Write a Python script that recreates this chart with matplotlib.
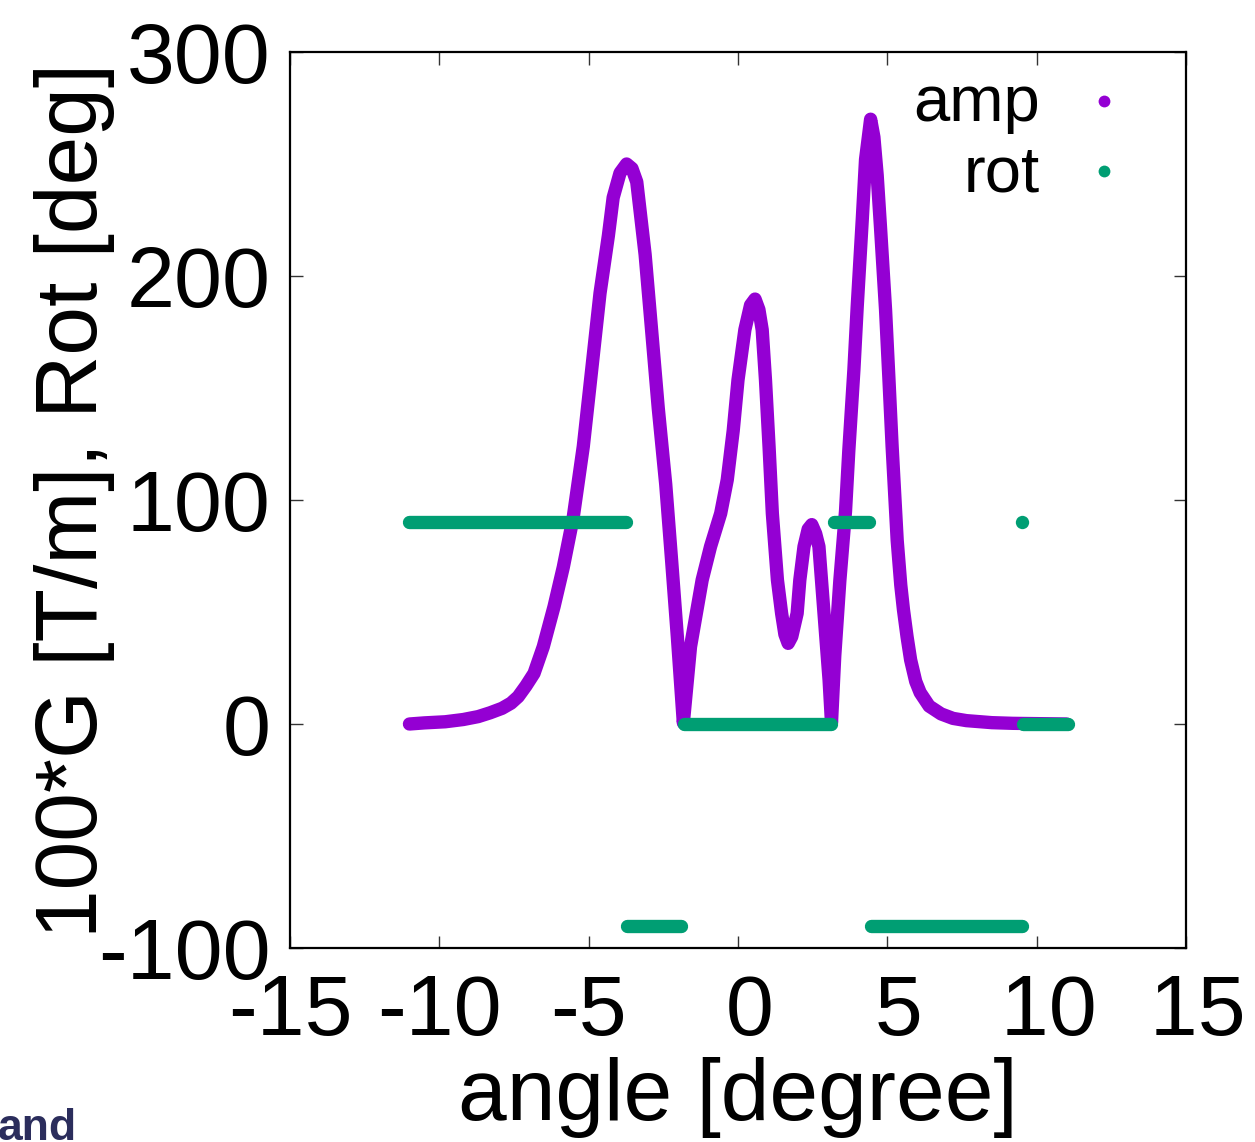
import matplotlib
matplotlib.use("Agg")
import matplotlib.pyplot as plt

plt.rcParams['font.family'] = ['Liberation Sans', 'DejaVu Sans']

# amp curve (100*G)
amp_x = [-11.0, -10.5, -9.8, -9.2, -8.7, -8.3, -7.9, -7.6, -7.36, -7.1, -6.83,
         -6.52, -6.16, -5.85, -5.52, -5.18, -4.90, -4.62, -4.34, -4.18, -3.95,
         -3.73, -3.55, -3.39, -3.11, -2.89, -2.67, -2.42, -2.22, -2.03, -1.83,
         -1.59, -1.20, -0.92, -0.58, -0.36, -0.16, 0.0, 0.23, 0.42, 0.57,
         0.70, 0.81, 0.92, 1.04, 1.15, 1.32, 1.46, 1.57, 1.68, 1.80,
         1.98, 2.07, 2.21, 2.35, 2.47, 2.60, 2.71, 2.88, 3.05, 3.13,
         3.24, 3.41, 3.60, 3.71, 3.88, 3.99, 4.16, 4.27, 4.44, 4.55,
         4.66, 4.77, 4.94, 5.05, 5.16, 5.33, 5.45, 5.54, 5.66, 5.78,
         5.95, 6.10, 6.40, 6.80, 7.20, 7.65, 8.50, 9.20, 11.0]
amp_y = [0.0, 0.5, 1.0, 2.0, 3.3, 5.0, 7.0, 9.3, 12.2, 17.0, 22.6,
         34.5, 52.4, 70.0, 92.0, 123.9, 158.0, 192.3, 218.0, 235.0, 246.0,
         250.0, 248.0, 242.0, 209.6, 175.4, 141.0, 107.0, 72.5, 38.8, 0.5,
         34.5, 64.3, 79.2, 94.0, 109.0, 131.0, 153.6, 176.0, 187.0, 189.7,
         185.0, 176.0, 153.6, 123.8, 94.0, 64.3, 49.4, 40.0, 36.0, 39.0,
         49.4, 64.3, 79.2, 87.0, 89.0, 85.0, 79.2, 49.4, 19.6, 0.5,
         30.5, 64.0, 95.0, 122.0, 158.0, 186.0, 225.0, 252.0, 270.0, 262.0,
         245.0, 222.0, 185.0, 155.0, 124.0, 82.0, 62.0, 51.0, 39.0, 28.6,
         19.0, 14.0, 8.0, 4.5, 2.5, 1.5, 0.6, 0.3, 0.0]

# rot series: constant runs (start, end, value)
rot_start = [-11.0, -3.7, -1.8, 3.2, 4.45, 9.5, 9.55]
rot_end = [-3.75, -1.9, 3.1, 4.4, 9.5, 9.5, 11.05]
rot_val = [90, -90, 0, 90, -90, 90, 0]

x_ticks = [-15, -10, -5, 0, 5, 10, 15]
x_tick_labels = ['-15', '-10', '-5', ' 0', ' 5', ' 10', ' 15']
y_ticks = [-100, 0, 100, 200, 300]
y_tick_labels = ['-100', '0', '100', '200', '300']

purple = '#9400D3'
green = '#009E73'

W, H = 1255, 1142
fig = plt.figure(figsize=(W / 100, H / 100), dpi=100)
L, R, B, T = 290, 1186, 948, 52
ax = fig.add_axes([L / W, 1 - B / H, (R - L) / W, (B - T) / H])

lw = 9.6
ax.plot(amp_x, amp_y, color=purple, lw=lw, solid_capstyle='round',
        solid_joinstyle='round', zorder=2)
for s, e, v in zip(rot_start, rot_end, rot_val):
    if e > s:
        ax.plot([s, e], [v, v], color=green, lw=lw, solid_capstyle='round', zorder=3)
    else:
        ax.plot([s], [v], 'o', color=green, ms=lw, mec='none', zorder=3)

ax.set_xlim(-15, 15)
ax.set_ylim(-100, 300)
ax.set_xticks(x_ticks)
ax.set_yticks(y_ticks)
ax.set_xticklabels(x_tick_labels)
ax.set_yticklabels(y_tick_labels)
ax.tick_params(direction='in', length=9, width=1, color='#333333',
               top=True, right=True, labelsize=62)
ax.tick_params(axis='y', pad=14)
ax.tick_params(axis='x', pad=18)
for sp in ax.spines.values():
    sp.set_linewidth(1.6)
    sp.set_color('black')

fig.text(738 / W, 1 - 1097 / H, 'angle [degree]', fontsize=63, ha='center', va='center')
fig.text(75 / W, 1 - 500 / H, '100*G [T/m], Rot [deg]', fontsize=63, ha='center',
         va='center', rotation=90)

# legend (gnuplot style: text then marker)
for lab, col, ty, my in [('amp', purple, 121, 101), ('rot', green, 192, 171)]:
    ax.text((1040 - L) / (R - L), (B - ty) / (B - T), lab, transform=ax.transAxes,
            fontsize=47, ha='right', va='baseline')
    ax.plot([(1104 - L) / (R - L)], [(B - my) / (B - T)], 'o', color=col, ms=8.5,
            mec='none', transform=ax.transAxes, clip_on=False)

fig.text(-2 / W, 2 / H, 'and', fontsize=32, fontweight='bold', color='#2b2d5c',
         ha='left', va='baseline')

fig.savefig('out.png', dpi=100)
